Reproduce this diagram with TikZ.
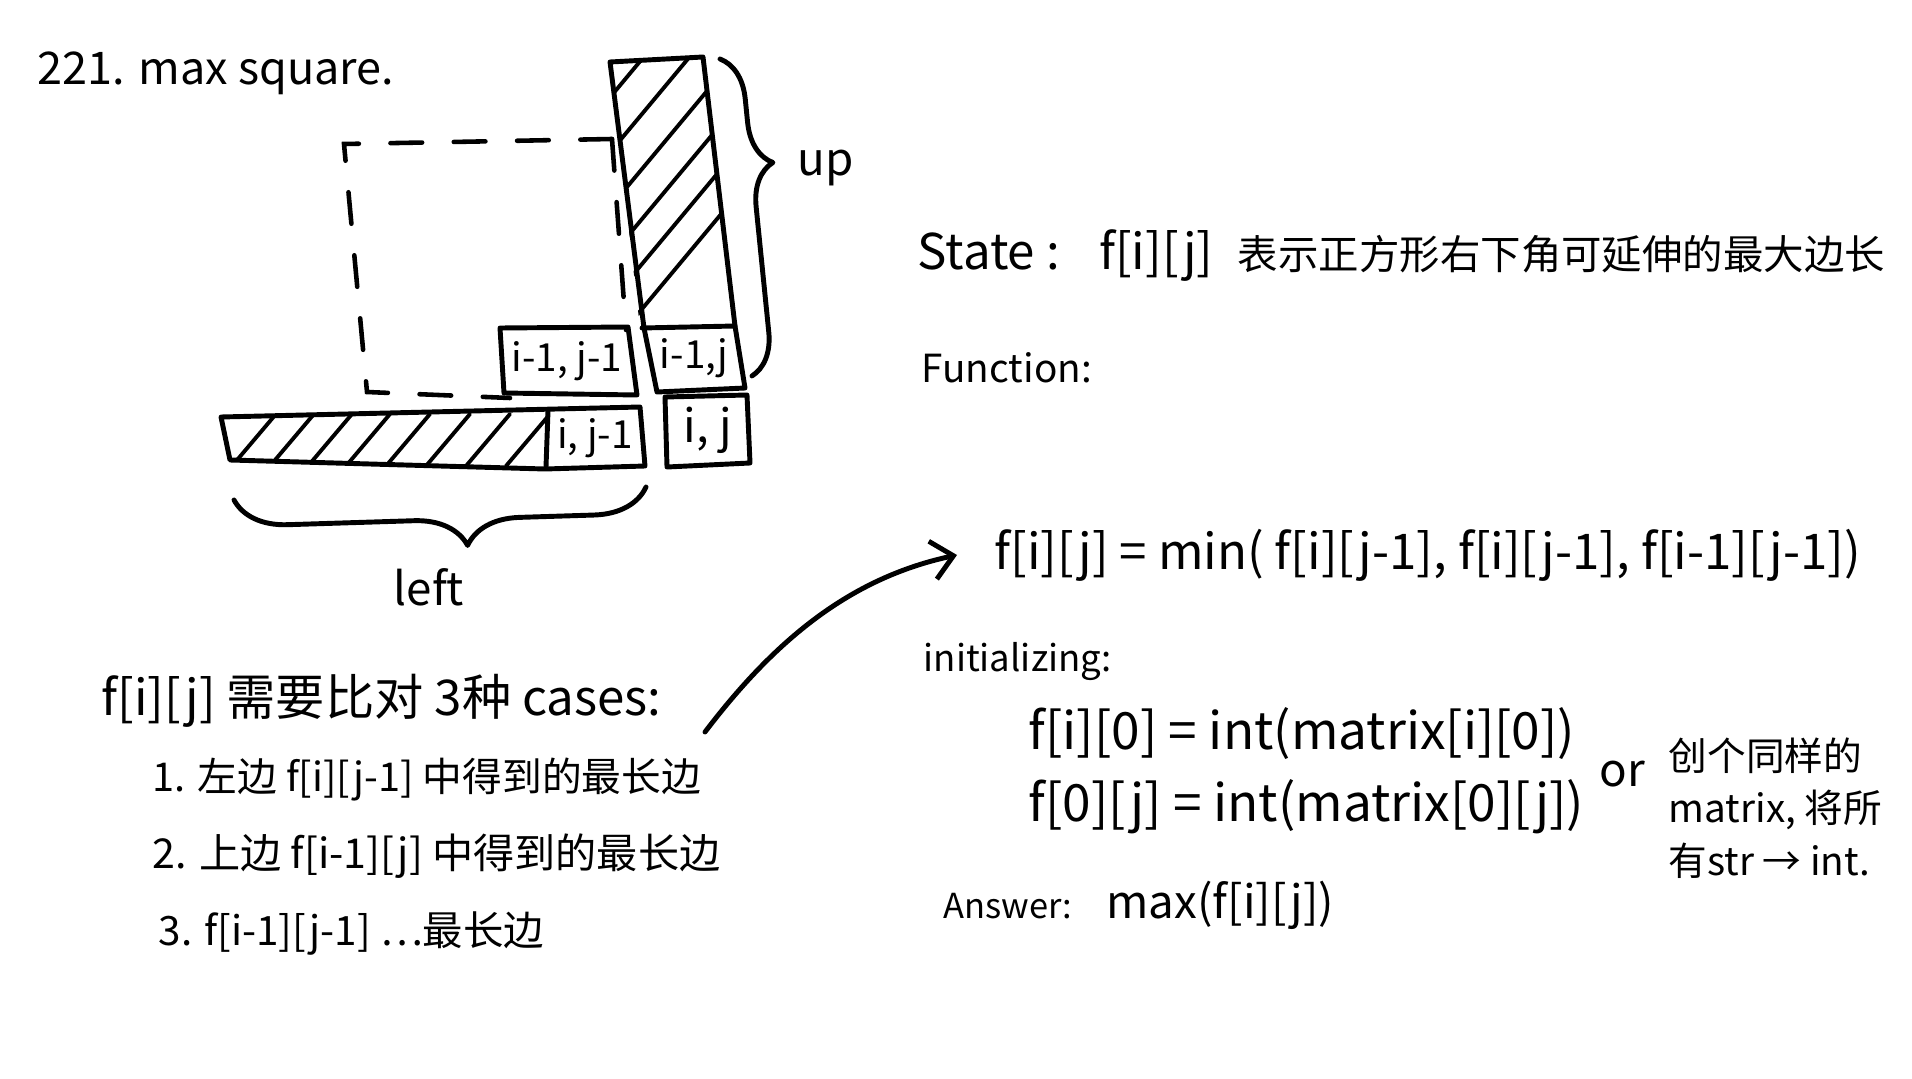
\documentclass[tikz,border=0pt]{standalone}
\usepackage{fontspec}
\setmainfont{Noto Sans CJK SC}
\usetikzlibrary{arrows.meta,decorations.pathreplacing,calc}
\tikzset{
  ink/.style={line width=1.4pt, line cap=round, line join=round},
  hatchline/.style={line width=1.1pt, line cap=round},
  dashedge/.style={line width=1.3pt, dash pattern=on 9pt off 9pt, line cap=round},
  txt/.style={inner sep=0pt, anchor=west, text=black},
  celllabel/.style={inner sep=0pt, font=\fontsize{11}{13}\selectfont},
  bracepath/.style={ink, decorate},
}
\begin{document}
\begin{tikzpicture}[x=0.01cm,y=-0.01cm]
\useasboundingbox (0,0) rectangle (1912,1079);
\fill[white] (0,0) rectangle (1912,1079);

% dashed square
\draw[dashedge] (612,139) -- (344,144) -- (367,392) -- (510,398);
\draw[dashedge] (612,139) -- (626,330);

% up bar hatching
\begin{scope}
  \clip (610,62) -- (703,57) -- (735,326) -- (640,328) -- cycle;
  \foreach \y in {95,150,205,255,300,345} \draw[hatchline] (612,\y) -- ++(110,-132);
\end{scope}
% up bar + cell i-1,j
\draw[ink] (610,62) -- (703,57) -- (735,326) -- (745,388) -- (657,392) -- (644,328) -- cycle;
\draw[ink] (642,328) -- (735,326);

% cell i-1,j-1
\draw[ink] (500,328) -- (628,327) -- (637,395) -- (504,393) -- cycle;

% left bar hatching
\begin{scope}
  \clip (221,417) -- (547,411) -- (546,468) -- (230,460) -- cycle;
  \foreach \x in {232,270,308,346,386,426,466,506} \draw[hatchline] (\x,466) -- ++(44,-52);
\end{scope}
% left bar + cell i,j-1
\draw[ink] (221,417) -- (640,407) -- (645,466) -- (545,469) -- (230,460) -- cycle;
\draw[ink] (548,411) -- (546,467);

% cell i,j
\draw[ink] (665,397) -- (747,395) -- (750,463) -- (667,467) -- cycle;

% cell labels
\node[celllabel] (lab11) at (567,361) {i-1, j-1};
\node[celllabel] (lab10) at (694,358) {i-1,j};
\node[celllabel] (lab01) at (595,438) {i, j-1};
\node[celllabel, font=\fontsize{13}{15}\selectfont] (lab00) at (708,430) {i, j};

% braces
\draw[bracepath, decoration={brace, amplitude=12pt, aspect=0.34}] (720,59) -- (752,376);
\draw[bracepath, decoration={brace, amplitude=15pt, aspect=0.437}] (646,487) -- (234,500);
\node[inner sep=0pt, font=\fontsize{13}{15}\selectfont] (up) at (826,168) {up};
\node[inner sep=0pt, font=\fontsize{13}{15}\selectfont] (leftlab) at (429,587) {left};

% texts
\node[txt, font=\fontsize{12.8}{15}\selectfont] (title) at (37,73) {221. max square.};
\node[txt, font=\fontsize{14}{16}\selectfont] (state) at (917,256) {State :\hspace{0.8em}f[i][j]\hspace{0.5em}{\fontsize{11.5}{14}\selectfont 表示正方形右下角可延伸的最大边长}};
\node[txt, font=\fontsize{11}{13}\selectfont] (func) at (921,368) {Function:};
\node[txt, font=\fontsize{14}{16}\selectfont] (formula) at (994,555) {f[i][j] = min( f[i][j-1], f[i][j-1], f[i-1][j-1])};
\node[txt, font=\fontsize{10.4}{12}\selectfont] (init) at (923,662) {initializing:};
\node[txt, font=\fontsize{14.6}{17}\selectfont] (init1) at (1028,734) {f[i][0] = int(matrix[i][0])};
\node[txt, font=\fontsize{14.6}{17}\selectfont] (init2) at (1028,807) {f[0][j] = int(matrix[0][j])};
\node[inner sep=0pt, font=\fontsize{13}{15}\selectfont] (or) at (1622,774) {or};
\node[txt, align=left, font=\fontsize{11}{15}\selectfont] (note) at (1668,808) {创个同样的\\matrix, 将所\\有str → int.};
\node[txt, font=\fontsize{13}{15}\selectfont] (answer) at (943,905) {{\fontsize{9.8}{12}\selectfont Answer:}\hspace{0.75em}max(f[i][j])};
\node[txt, font=\fontsize{14}{16}\selectfont] (cases) at (101,701) {f[i][j] 需要比对 3种 cases:};
\node[txt, font=\fontsize{11.3}{14}\selectfont] (c1) at (152,780) {1. 左边 f[i][j-1] 中得到的最长边};
\node[txt, font=\fontsize{11.7}{14}\selectfont] (c2) at (152,856) {2. 上边 f[i-1][j] 中得到的最长边};
\node[txt, font=\fontsize{11.5}{14}\selectfont] (c3) at (158,933) {3. f[i-1][j-1] …最长边};

% arrow
\coordinate (arrS) at (705,732);
\draw[ink, -{Straight Barb[length=6pt,width=11pt]}] (arrS) .. controls (775,640) and (850,578) .. ($(formula.west)+(-37,0)$);
\end{tikzpicture}
\end{document}
